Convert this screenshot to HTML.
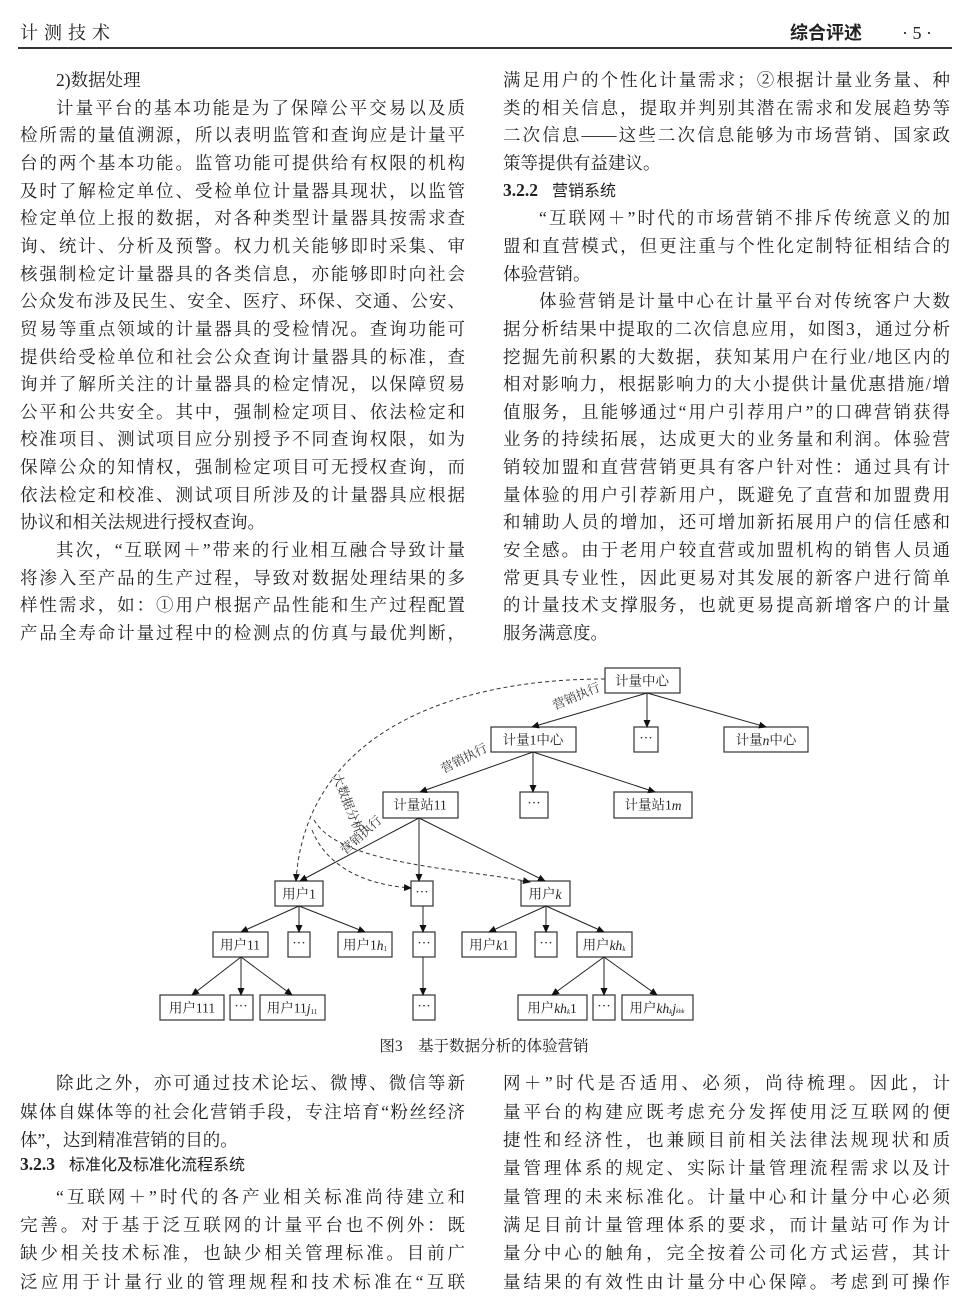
<!DOCTYPE html>
<html><head><meta charset="utf-8">
<style>
body{margin:0;background:#fff;}
#p{position:relative;width:968px;height:1298px;overflow:hidden;font-family:"Liberation Serif","Noto Serif CJK SC",serif;color:#222;font-size:17.5px;}
.l{position:absolute;height:28px;line-height:28px;white-space:nowrap;}
.L{left:20px;width:445px;}
.R{left:503px;width:447px;}
.j{text-align:justify;text-align-last:justify;}
.i{padding-left:36px;box-sizing:border-box;}
.h{font-family:"Liberation Sans","Noto Sans CJK SC",sans-serif;font-size:16px;}
b.s{font-family:"Liberation Serif",serif;font-weight:bold;margin-right:14px;}
</style></head><body><div id="p">
<div class="l" style="left:20px;top:19px;font-size:18px;letter-spacing:6px">计测技术</div>
<div class="l" style="left:790px;top:19px;font-size:18px;font-weight:bold;font-family:'Liberation Sans','Noto Sans CJK SC',sans-serif">综合评述</div>
<div class="l" style="left:902px;top:19px;font-size:18px">· 5 ·</div>
<div style="position:absolute;left:18px;top:47px;width:934px;height:2px;background:#333"></div>

<div class="l L i" style="top:66px">2)数据处理</div>
<div class="l L i j" style="top:94px">计量平台的基本功能是为了保障公平交易以及质</div>
<div class="l L j" style="top:121px">检所需的量值溯源，所以表明监管和查询应是计量平</div>
<div class="l L j" style="top:149px">台的两个基本功能。监管功能可提供给有权限的机构</div>
<div class="l L j" style="top:177px">及时了解检定单位、受检单位计量器具现状，以监管</div>
<div class="l L j" style="top:204px">检定单位上报的数据，对各种类型计量器具按需求查</div>
<div class="l L j" style="top:232px">询、统计、分析及预警。权力机关能够即时采集、审</div>
<div class="l L j" style="top:260px">核强制检定计量器具的各类信息，亦能够即时向社会</div>
<div class="l L j" style="top:287px">公众发布涉及民生、安全、医疗、环保、交通、公安、</div>
<div class="l L j" style="top:315px">贸易等重点领域的计量器具的受检情况。查询功能可</div>
<div class="l L j" style="top:343px">提供给受检单位和社会公众查询计量器具的标准，查</div>
<div class="l L j" style="top:370px">询并了解所关注的计量器具的检定情况，以保障贸易</div>
<div class="l L j" style="top:398px">公平和公共安全。其中，强制检定项目、依法检定和</div>
<div class="l L j" style="top:425px">校准项目、测试项目应分别授予不同查询权限，如为</div>
<div class="l L j" style="top:453px">保障公众的知情权，强制检定项目可无授权查询，而</div>
<div class="l L j" style="top:481px">依法检定和校准、测试项目所涉及的计量器具应根据</div>
<div class="l L" style="top:508px">协议和相关法规进行授权查询。</div>
<div class="l L i j" style="top:536px">其次，“互联网＋”带来的行业相互融合导致计量</div>
<div class="l L j" style="top:564px">将渗入至产品的生产过程，导致对数据处理结果的多</div>
<div class="l L j" style="top:591px">样性需求，如：①用户根据产品性能和生产过程配置</div>
<div class="l L j" style="top:619px">产品全寿命计量过程中的检测点的仿真与最优判断，</div>

<div class="l R j" style="top:66px">满足用户的个性化计量需求；②根据计量业务量、种</div>
<div class="l R j" style="top:94px">类的相关信息，提取并判别其潜在需求和发展趋势等</div>
<div class="l R j" style="top:121px">二次信息——这些二次信息能够为市场营销、国家政</div>
<div class="l R" style="top:149px">策等提供有益建议。</div>
<div class="l R" style="top:176px"><b class="s">3.2.2</b><span class="h">营销系统</span></div>
<div class="l R i j" style="top:204px">“互联网＋”时代的市场营销不排斥传统意义的加</div>
<div class="l R j" style="top:232px">盟和直营模式，但更注重与个性化定制特征相结合的</div>
<div class="l R" style="top:260px">体验营销。</div>
<div class="l R i j" style="top:287px">体验营销是计量中心在计量平台对传统客户大数</div>
<div class="l R j" style="top:315px">据分析结果中提取的二次信息应用，如图3，通过分析</div>
<div class="l R j" style="top:343px">挖掘先前积累的大数据，获知某用户在行业/地区内的</div>
<div class="l R j" style="top:370px">相对影响力，根据影响力的大小提供计量优惠措施/增</div>
<div class="l R j" style="top:398px">值服务，且能够通过“用户引荐用户”的口碑营销获得</div>
<div class="l R j" style="top:425px">业务的持续拓展，达成更大的业务量和利润。体验营</div>
<div class="l R j" style="top:453px">销较加盟和直营营销更具有客户针对性：通过具有计</div>
<div class="l R j" style="top:481px">量体验的用户引荐新用户，既避免了直营和加盟费用</div>
<div class="l R j" style="top:508px">和辅助人员的增加，还可增加新拓展用户的信任感和</div>
<div class="l R j" style="top:536px">安全感。由于老用户较直营或加盟机构的销售人员通</div>
<div class="l R j" style="top:564px">常更具专业性，因此更易对其发展的新客户进行简单</div>
<div class="l R j" style="top:591px">的计量技术支撑服务，也就更易提高新增客户的计量</div>
<div class="l R" style="top:619px">服务满意度。</div>

<svg style="position:absolute;left:0;top:0" width="968" height="1298" font-family="Liberation Serif,Noto Serif CJK SC,serif" font-size="13.5" fill="#222">
<defs><marker id="a" markerWidth="8" markerHeight="8" refX="7" refY="4" orient="auto" markerUnits="userSpaceOnUse"><path d="M0,0.5 L8,4 L0,7.5z" fill="#111"/></marker></defs>
<g stroke="#333" stroke-width="1.2" fill="#fff">
<rect x="605" y="668" width="75" height="25"/>
<rect x="491" y="727" width="85" height="25"/><rect x="634" y="727" width="24" height="25"/><rect x="724" y="727" width="84" height="25"/>
<rect x="383" y="792" width="75" height="26"/><rect x="520" y="792" width="28" height="26"/><rect x="614" y="792" width="78" height="26"/>
<rect x="275" y="881" width="48" height="25"/><rect x="411" y="881" width="22" height="25"/><rect x="521" y="881" width="49" height="25"/>
<rect x="213" y="932" width="55" height="25"/><rect x="288" y="932" width="22" height="25"/><rect x="338" y="932" width="54" height="25"/><rect x="413" y="932" width="22" height="25"/><rect x="462" y="932" width="54" height="25"/><rect x="535" y="932" width="22" height="25"/><rect x="577" y="932" width="55" height="25"/>
<rect x="160" y="995" width="64" height="25"/><rect x="230" y="995" width="23" height="25"/><rect x="260" y="995" width="65" height="25"/><rect x="413" y="995" width="22" height="25"/><rect x="518" y="995" width="69" height="25"/><rect x="593" y="995" width="22" height="25"/><rect x="622" y="995" width="71" height="25"/>
</g>
<g stroke="#222" stroke-width="1" marker-end="url(#a)">
<line x1="647" y1="693" x2="532" y2="727"/><line x1="647" y1="693" x2="647" y2="727"/><line x1="647" y1="693" x2="766" y2="727"/>
<line x1="533" y1="752" x2="420" y2="792"/><line x1="533" y1="752" x2="533" y2="792"/><line x1="533" y1="752" x2="655" y2="792"/>
<line x1="419" y1="818" x2="300" y2="881"/><line x1="419" y1="818" x2="419" y2="881"/><line x1="419" y1="818" x2="545" y2="881"/>
<line x1="299" y1="906" x2="241" y2="932"/><line x1="299" y1="906" x2="299" y2="932"/><line x1="299" y1="906" x2="365" y2="932"/>
<line x1="423" y1="906" x2="423" y2="932"/><line x1="423" y1="957" x2="423" y2="995"/>
<line x1="546" y1="906" x2="489" y2="932"/><line x1="546" y1="906" x2="546" y2="932"/><line x1="546" y1="906" x2="604" y2="932"/>
<line x1="241" y1="957" x2="192" y2="995"/><line x1="241" y1="957" x2="241" y2="995"/><line x1="241" y1="957" x2="292" y2="995"/>
<line x1="604" y1="957" x2="552" y2="995"/><line x1="604" y1="957" x2="604" y2="995"/><line x1="604" y1="957" x2="657" y2="995"/>
</g>
<g stroke="#333" stroke-width="1" fill="none" stroke-dasharray="4,3" marker-end="url(#a)">
<path d="M605,679 C440,679 305,740 296,881"/>
<path d="M312,830 C330,875 380,886 411,888"/>
<path d="M314,820 C340,865 460,868 530,882"/>
</g>
<g text-anchor="middle" dominant-baseline="central">
<text x="642" y="681">计量中心</text>
<text x="533" y="740">计量1中心</text><text x="646" y="738">···</text><text x="766" y="740">计量<tspan font-style="italic">n</tspan>中心</text>
<text x="420" y="805">计量站11</text><text x="534" y="803">···</text><text x="653" y="805">计量站1<tspan font-style="italic">m</tspan></text>
<text x="299" y="894">用户1</text><text x="422" y="892">···</text><text x="545" y="894">用户<tspan font-style="italic">k</tspan></text>
<text x="240" y="945">用户11</text><text x="299" y="943">···</text><text x="365" y="945">用户1<tspan font-style="italic">h</tspan><tspan font-size="7" dy="4">1</tspan></text><text x="424" y="943">···</text><text x="489" y="945">用户<tspan font-style="italic">k</tspan>1</text><text x="546" y="943">···</text><text x="604" y="945">用户<tspan font-style="italic">kh</tspan><tspan font-size="7" font-style="italic" dy="4">k</tspan></text>
<text x="192" y="1008">用户111</text><text x="241" y="1006">···</text><text x="292" y="1008">用户11<tspan font-style="italic">j</tspan><tspan font-size="7" dy="4">11</tspan></text><text x="424" y="1006">···</text><text x="552" y="1008">用户<tspan font-style="italic">kh</tspan><tspan font-size="7" font-style="italic" dy="4">k</tspan><tspan dy="-4">1</tspan></text><text x="604" y="1006">···</text><text x="657" y="1008">用户<tspan font-style="italic">kh</tspan><tspan font-size="7" font-style="italic" dy="4">k</tspan><tspan font-style="italic" dy="-4">j</tspan><tspan font-size="6" font-style="italic" dy="4">khk</tspan></text>
</g>
<g font-size="12.5" fill="#333" text-anchor="middle">
<text transform="translate(578,700) rotate(-23)">营销执行</text>
<text transform="translate(466,762) rotate(-27)">营销执行</text>
<text transform="translate(364,838) rotate(-42)">营销执行</text>
<text transform="translate(344,805) rotate(68)">大数据分析</text>
</g>
<text x="484" y="1051" text-anchor="middle" font-size="15.5">图3　基于数据分析的体验营销</text>
</svg>

<div class="l L i j" style="top:1069px">除此之外，亦可通过技术论坛、微博、微信等新</div>
<div class="l L j" style="top:1098px">媒体自媒体等的社会化营销手段，专注培育“粉丝经济</div>
<div class="l L" style="top:1126px">体”，达到精准营销的目的。</div>
<div class="l L" style="top:1150px"><b class="s">3.2.3</b><span class="h">标准化及标准化流程系统</span></div>
<div class="l L i j" style="top:1183px">“互联网＋”时代的各产业相关标准尚待建立和</div>
<div class="l L j" style="top:1211px">完善。对于基于泛互联网的计量平台也不例外：既</div>
<div class="l L j" style="top:1239px">缺少相关技术标准，也缺少相关管理标准。目前广</div>
<div class="l L j" style="top:1268px">泛应用于计量行业的管理规程和技术标准在“互联</div>

<div class="l R j" style="top:1069px">网＋”时代是否适用、必须，尚待梳理。因此，计</div>
<div class="l R j" style="top:1098px">量平台的构建应既考虑充分发挥使用泛互联网的便</div>
<div class="l R j" style="top:1126px">捷性和经济性，也兼顾目前相关法律法规现状和质</div>
<div class="l R j" style="top:1154px">量管理体系的规定、实际计量管理流程需求以及计</div>
<div class="l R j" style="top:1183px">量管理的未来标准化。计量中心和计量分中心必须</div>
<div class="l R j" style="top:1211px">满足目前计量管理体系的要求，而计量站可作为计</div>
<div class="l R j" style="top:1239px">量分中心的触角，完全按着公司化方式运营，其计</div>
<div class="l R j" style="top:1268px">量结果的有效性由计量分中心保障。考虑到可操作</div>
</div></body></html>
